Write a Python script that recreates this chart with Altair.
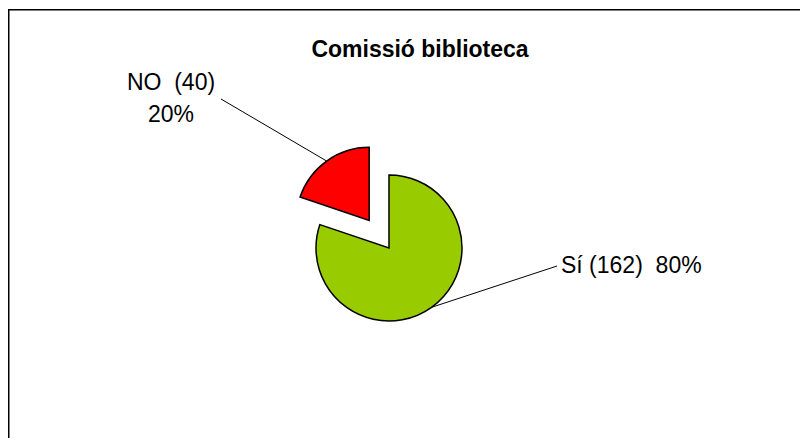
import math
import altair as alt
import pandas as pd

# ---- data ----
TITLE = ["Comissió biblioteca"]
CATEGORIES = ["Sí", "NO"]
COUNTS = [162, 40]
COLORS = ["#99CC00", "#FF0000"]
LABELS = [["Sí (162)\u00a0\u00a080%"], ["NO\u00a0\u00a0(40)", "20%"]]

# ---- style / layout (pixels in view coordinates) ----
CX, CY = 381, 240          # pie centre
RADIUS = 73
EXPLODE = [0, 34]          # slice explode distance
LEADER_END = [(168, 18), (-168, -149)]   # end of leader line, relative to pie centre
TEXT_AT = [(172, 25), (-218, -158)]      # text anchor, relative to pie centre
TEXT_ALIGN = ["left", "center"]
FONT = "Liberation Sans"

TOTAL = sum(COUNTS)
rows = []
start = 0.0
for i, (cat, cnt) in enumerate(zip(CATEGORIES, COUNTS)):
    end = start + cnt
    mid = (start + end) / 2 / TOTAL * 2 * math.pi
    ex = EXPLODE[i] * math.sin(mid)
    ey = -EXPLODE[i] * math.cos(mid)
    cx, cy = CX + ex, CY + ey
    rows.append({
        "cat": cat, "count": cnt, "start": start, "end": end,
        "cx": cx, "cy": cy,
        "lx1": cx + RADIUS * math.sin(mid), "ly1": cy - RADIUS * math.cos(mid),
        "lx2": CX + LEADER_END[i][0], "ly2": CY + LEADER_END[i][1],
        "tx": CX + TEXT_AT[i][0], "ty": CY + TEXT_AT[i][1],
        "label": LABELS[i], "align": TEXT_ALIGN[i],
    })
    start = end
df = pd.DataFrame(rows)

base = alt.Chart(df)

pie = base.mark_arc(outerRadius=RADIUS, stroke="black", strokeWidth=1.5).encode(
    theta=alt.Theta("start:Q", scale=alt.Scale(domain=[0, TOTAL], range=[0, 2 * math.pi])),
    theta2="end:Q",
    x=alt.X("cx:Q", scale=None),
    y=alt.Y("cy:Q", scale=None),
    color=alt.Color("cat:N", scale=alt.Scale(domain=CATEGORIES, range=COLORS), legend=None),
)

leaders = base.mark_rule(color="black", strokeWidth=1).encode(
    x=alt.X("lx1:Q", scale=None), y=alt.Y("ly1:Q", scale=None),
    x2="lx2:Q", y2="ly2:Q",
)

text_left = base.transform_filter(alt.datum.align == "left").mark_text(
    align="left", baseline="alphabetic", font=FONT, fontSize=23, color="black", lineHeight=32
).encode(x=alt.X("tx:Q", scale=None), y=alt.Y("ty:Q", scale=None), text="label")

text_center = base.transform_filter(alt.datum.align == "center").mark_text(
    align="center", baseline="alphabetic", font=FONT, fontSize=23, color="black", lineHeight=32
).encode(x=alt.X("tx:Q", scale=None), y=alt.Y("ty:Q", scale=None), text="label")

title = alt.Chart(pd.DataFrame({"t": TITLE})).mark_text(
    align="center", baseline="alphabetic", font=FONT, fontSize=23, fontWeight="bold", color="black"
).encode(x=alt.value(412), y=alt.value(49), text="t:N")

frame_df = pd.DataFrame({"k": [0]})
top_border = alt.Chart(frame_df).mark_rule(color="black", strokeWidth=1.5).encode(
    x=alt.value(0), x2=alt.value(800), y=alt.value(1.75)
)
left_border = alt.Chart(frame_df).mark_rule(color="black", strokeWidth=1.5).encode(
    x=alt.value(0.75), y=alt.value(1), y2=alt.value(440)
)

chart = alt.layer(
    top_border, left_border, leaders, pie, text_left, text_center, title
).properties(
    width=792, height=430, autosize="none", padding=0
).configure_view(stroke=None)

chart.save("out.html", embed_options={"renderer": "svg", "actions": False})
